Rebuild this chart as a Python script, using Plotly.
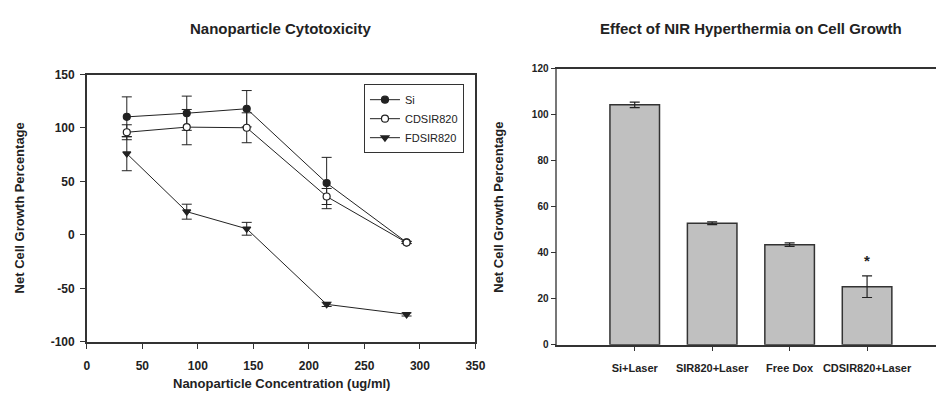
import plotly.graph_objects as go

# ---- Left chart data ----
conc = [36, 90, 144, 216, 288]
si_vals = [110.4, 113.8, 118.0, 48.5, -7.0]
si_err = [18.7, 16.0, 17.0, 24.0, 1.0]
cd_vals = [96.0, 100.8, 100.2, 35.9, -7.2]
cd_err = [7.0, 16.5, 14.0, 7.5, 1.0]
fd_vals = [76.0, 21.7, 5.7, -65.0, -74.4]
fd_err = [16.0, 7.0, 6.0, 2.0, 1.5]
left_xticks = [0, 50, 100, 150, 200, 250, 300, 350]
left_yticks = [-100, -50, 0, 50, 100, 150]
left_ylabels = ["-100", "-50", "0", "50", "100", "150"]

# ---- Right chart data ----
groups = ["Si+Laser", "SIR820+Laser", "Free Dox", "CDSIR820+Laser"]
bar_vals = [104.3, 52.8, 43.5, 25.2]
bar_err = [1.2, 0.6, 0.8, 4.7]
star_y = 36.5
right_yticks = [0, 20, 40, 60, 80, 100, 120]

FONT = "Liberation Sans, Arial, sans-serif"
LINE = "#222222"
W, H = 946, 397

fig = go.Figure()

def series(name, y, err, symbol, fill, size):
    fig.add_trace(go.Scatter(
        x=conc, y=y, name=name, mode="lines+markers",
        line=dict(color=LINE, width=1),
        marker=dict(symbol=symbol, size=size, color=fill,
                    line=dict(color=LINE, width=1.2)),
        error_y=dict(type="data", array=err, color=LINE, thickness=1, width=5),
        xaxis="x", yaxis="y"))

series("Si", si_vals, si_err, "circle", LINE, 7)
series("CDSIR820", cd_vals, cd_err, "circle", "white", 7)
series("FDSIR820", fd_vals, fd_err, "triangle-down", LINE, 7)

fig.add_trace(go.Bar(
    x=groups, y=bar_vals, width=0.64, showlegend=False,
    marker=dict(color="#c0c0c0", line=dict(color="#333333", width=1.5)),
    error_y=dict(type="data", array=bar_err, color=LINE, thickness=1.2, width=5),
    xaxis="x2", yaxis="y2"))

fig.add_annotation(x=groups[3], y=star_y, xref="x2", yref="y2", text="<b>*</b>",
                   showarrow=False, font=dict(family=FONT, size=15, color="#222"))

def note(x, y, text, size, angle=0):
    fig.add_annotation(x=x/W, y=1-y/H, xref="paper", yref="paper",
                       xanchor="center", yanchor="middle", textangle=angle,
                       text=text, showarrow=False,
                       font=dict(family=FONT, size=size, color="#222"))

note(282, 22, "<b>Nanoparticle Cytotoxicity</b>", 15)
note(758, 22, "<b>Effect of NIR Hyperthermia on Cell Growth</b>", 15)
note(17, 208, "<b>Net Cell Growth Percentage</b>", 13, -90)
note(503, 208, "<b>Net Cell Growth Percentage</b>", 13, -90)
note(282, 390, "<b>Nanoparticle Concentration (ug/ml)</b>", 13)

axis_common = dict(showgrid=False, zeroline=False, showline=True, linecolor="#333",
                   linewidth=1.5, ticks="outside", ticklen=5, tickcolor="#333")

fig.update_layout(
    width=W, height=H, margin=dict(l=0, r=0, t=0, b=0),
    plot_bgcolor="white", paper_bgcolor="white",
    font=dict(family=FONT, color="#222"),
    xaxis=dict(domain=[85/W, 479/W], range=[0, 350], tickvals=left_xticks,
               mirror=True, ticklabelstandoff=7,
               tickfont=dict(size=12, family=FONT, weight="bold"), **axis_common),
    yaxis=dict(domain=[1-347/H, 1-70/H], range=[-100, 150], tickvals=left_yticks,
               ticktext=left_ylabels, mirror=True, ticklabelstandoff=3,
               tickfont=dict(size=12, family=FONT, weight="bold"), **axis_common),
    xaxis2=dict(domain=[562/W, 1.0], range=[-1, 3.89], type="category",
                mirror=True, anchor="y2", ticklabelstandoff=7,
                tickfont=dict(size=11, family=FONT, weight="bold"), **axis_common),
    yaxis2=dict(domain=[1-350/H, 1-64/H], range=[0, 120], tickvals=right_yticks,
                anchor="x2", tickfont=dict(size=10, family=FONT, weight="bold"),
                **{**axis_common, "linecolor": "#777"}),
    legend=dict(x=366/W, y=1-80/H, xanchor="left", yanchor="top",
                bgcolor="white", bordercolor="#333", borderwidth=1,
                font=dict(family=FONT, size=11, color="#222"),
                tracegroupgap=0, itemwidth=30),
    bargap=0.36,
)

fig.write_html("out.html")
